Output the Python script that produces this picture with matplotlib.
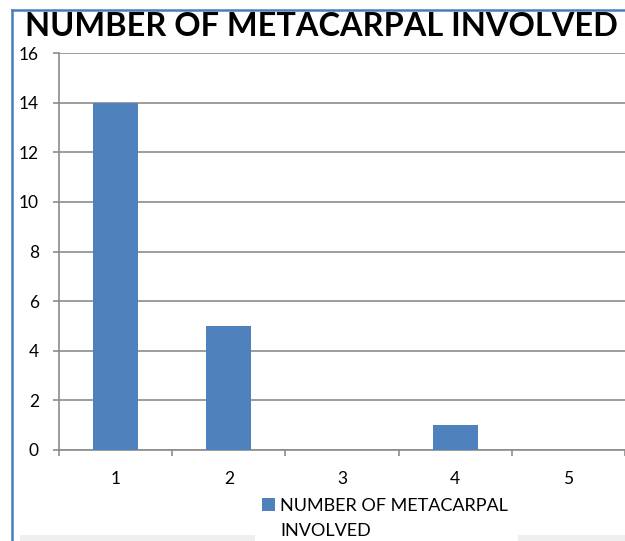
import matplotlib.pyplot as plt
from matplotlib.patches import Rectangle
from matplotlib.lines import Line2D

categories = ['1', '2', '3', '4', '5']
values = [14, 5, 0, 1, 0]
series_name = 'NUMBER OF METACARPAL INVOLVED'
yticks = [0, 2, 4, 6, 8, 10, 12, 14, 16]

plt.rcParams['font.family'] = ['Lato', 'DejaVu Sans']

fig = plt.figure(figsize=(6.25, 5.41), dpi=100)
W, H = 625, 541

# blue frame on the left and top, grey strip at bottom
fig.add_artist(Line2D([12 / W, 12 / W], [0, 1 - 10 / H], color='#4a7ebb', lw=1.8))
fig.add_artist(Line2D([12 / W, 1], [1 - 10 / H, 1 - 10 / H], color='#4a7ebb', lw=1.8))
fig.add_artist(Rectangle((20 / W, 0), 1, 6 / H, color='#efefef', lw=0, zorder=0))
fig.add_artist(Rectangle((255 / W, 0), 263 / W, 6 / H, color='white', lw=0, zorder=0))

ax = fig.add_axes([59 / W, 91 / H, 1 - 59 / W, (450 - 53) / H])
x = list(range(len(categories)))
bars = ax.bar(x, values, width=0.4, color='#4f81bd', zorder=3)

ax.set_xlim(-0.5, len(categories) - 0.5)
ax.set_ylim(0, 16)
ax.set_yticks(yticks)
ax.set_yticklabels([str(t) for t in yticks], fontsize=12.5)
ax.set_xticks(x)
ax.set_xticklabels(categories, fontsize=12.5)
ax.set_xticks([i - 0.5 for i in range(len(categories) + 1)], minor=True)
ax.tick_params(axis='x', which='major', length=0, pad=15)
ax.tick_params(axis='x', which='minor', length=4.5, color='#8c8c8c', width=1.2)
ax.tick_params(axis='y', length=4.5, color='#8c8c8c', width=1.2, pad=10)
ax.grid(axis='y', color='#8c8c8c', lw=1.2, zorder=0)
for s in ['top', 'right']:
    ax.spines[s].set_visible(False)
for s in ['left', 'bottom']:
    ax.spines[s].set_color('#8c8c8c')
    ax.spines[s].set_linewidth(1.2)

title = fig.text(321.5 / W, 1 - 27 / H, series_name, ha='center', va='center',
                 fontsize=24, fontweight='bold')
# shrink title so it spans the same width as the reference
r = fig.canvas.get_renderer()
tw = title.get_window_extent(r).width
title.set_fontsize(24 * 591 / tw)

leg = fig.legend([bars], ['NUMBER OF METACARPAL'], loc='center left',
                 bbox_to_anchor=(262 / W, 1 - 506 / H), frameon=False,
                 fontsize=13, handlelength=0.7, handleheight=0.7,
                 handletextpad=0.3, borderpad=0, borderaxespad=0)
fig.text(280 / W, 1 - 531 / H, 'INVOLVED', ha='left', va='center', fontsize=13)

fig.savefig('out.png', dpi=100)
